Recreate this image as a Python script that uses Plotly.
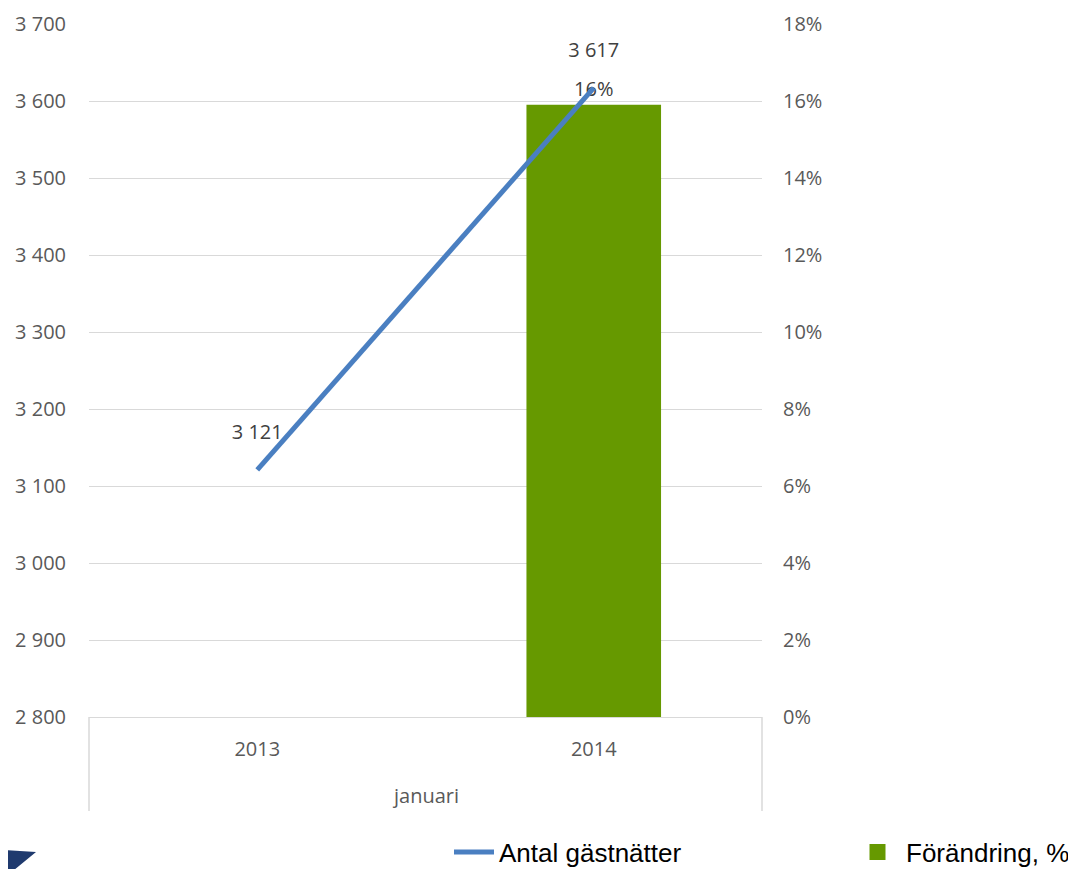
import plotly.graph_objects as go

# ---- data ----
month_group = "januari"
years = ["2013", "2014"]
guest_nights = [3121, 3617]
change_pct = [None, 0.159]

line_name = "Antal gästnätter"
bar_name = "Förändring, %"

# ---- layout constants (viewport pixels; page body adds an 8px offset) ----
OFF = 8
VW, VH = 1076, 869
W, H = VW - OFF, VH - OFF
PL, PR, PT, PB = 89, 762, 24, 717          # plot area in viewport pixels
ML, MR, MT, MB = PL - OFF, VW - PR, PT - OFF, VH - PB
PW, PH = PR - PL, PB - PT

def px(xv):
    return (xv - PL) / PW

def py(yv):
    return (PB - yv) / PH

def cx(xv):
    return (xv - OFF) / W

def cy(yv):
    return (VH - yv) / H

tick_font = dict(family="Open Sans", size=20, color="#595959")
label_font = dict(family="Open Sans", size=20, color="#404040")
legend_font = dict(family="Liberation Sans", size=26, color="#000000")
grid = "#d9d9d9"
green, red = "#669900", "#990000"

fig = go.Figure()

fig.add_trace(go.Bar(
    x=years, y=change_pct, name=bar_name, yaxis="y",
    marker=dict(color=green, line=dict(width=0)),
    width=0.4,
    texttemplate="%{y:.0%}", textposition="outside",
    textfont=label_font,
    cliponaxis=False, showlegend=False, legendgroup="chg",
))

fig.add_trace(go.Scatter(
    x=years, y=guest_nights, name=line_name, yaxis="y2",
    mode="lines+text",
    line=dict(color="#4a7fc1", width=5),
    texttemplate="%{y:,}<br> ", textposition="top center",
    textfont=label_font,
    cliponaxis=False, legend="legend",
))

# legend entry for the bar series (larger square icon)
fig.add_trace(go.Scatter(
    x=[None], y=[None], name=bar_name, yaxis="y", mode="markers",
    marker=dict(symbol="square", size=26, color=green),
    legendgroup="chg", legend="legend2", hoverinfo="skip",
))

fig.update_layout(
    width=W, height=H,
    margin=dict(l=ML, r=MR, t=MT, b=MB, autoexpand=False),
    paper_bgcolor="white", plot_bgcolor="white",
    separators=", ",
    showlegend=True,
    legend=dict(
        orientation="h", xref="container", yref="container",
        x=cx(449), xanchor="left", y=cy(852), yanchor="middle",
        font=legend_font, itemwidth=40, bgcolor="rgba(0,0,0,0)",
    ),
    legend2=dict(
        orientation="h", xref="container", yref="container",
        x=cx(849), xanchor="left", y=cy(852), yanchor="middle",
        font=legend_font, itemwidth=47, bgcolor="rgba(0,0,0,0)",
        itemsizing="trace",
    ),
    xaxis=dict(
        type="category", automargin=False,
        showline=True, linecolor=grid, linewidth=1,
        showgrid=False, ticks="", ticklabelstandoff=14,
        tickfont=tick_font,
    ),
    yaxis=dict(
        side="right", range=[0, 0.18], dtick=0.02, tickformat=".0%",
        showgrid=True, gridcolor=grid, gridwidth=1, automargin=False,
        zeroline=False, showline=False, ticks="",
        tickfont=tick_font, ticklabelstandoff=20,
    ),
    yaxis2=dict(
        side="left", overlaying="y", range=[2800, 3700], dtick=100,
        tickformat=",", showgrid=False, zeroline=False, showline=False,
        automargin=False, ticks="", tickfont=tick_font, ticklabelstandoff=22,
    ),
    annotations=[dict(
        text=month_group, xref="paper", yref="paper", x=0.5, y=py(795),
        xanchor="center", yanchor="middle", showarrow=False,
        font=tick_font,
    )],
    shapes=[
        dict(type="line", xref="paper", yref="paper", x0=0, x1=0,
             y0=0, y1=py(811), line=dict(color=grid, width=1.5)),
        dict(type="line", xref="paper", yref="paper", x0=1, x1=1,
             y0=0, y1=py(811), line=dict(color=grid, width=1.5)),
        dict(type="path", xref="paper", yref="paper",
             path=(f"M {px(-10)} {py(812)} L {px(6)} {py(850)} L {px(36)} {py(852)} "
                   f"L {px(8)} {py(875)} L {px(-10)} {py(875)} Z"),
             fillcolor="#1f3a6e", line=dict(width=0), layer="above"),
    ],
)

fig.write_html("out.html")
